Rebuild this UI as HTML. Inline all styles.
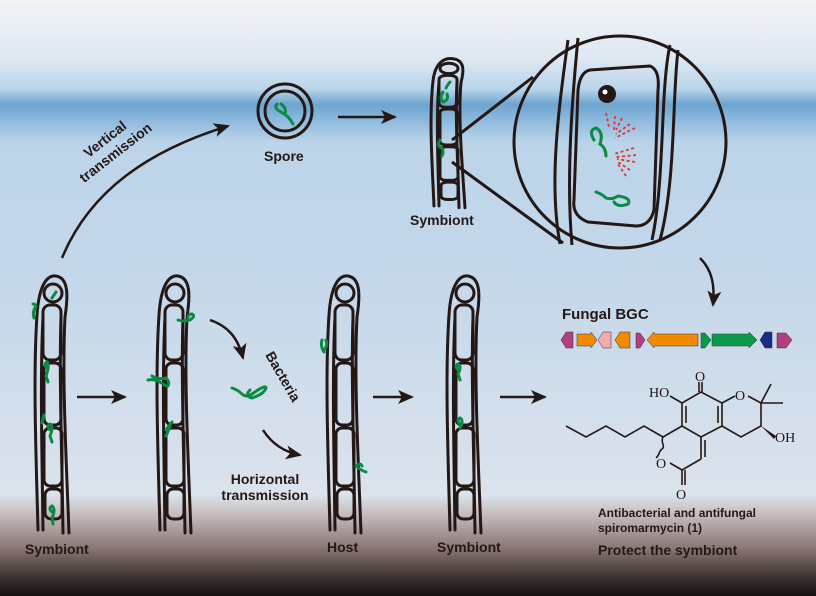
<!DOCTYPE html>
<html><head><meta charset="utf-8"><style>
html,body{margin:0;padding:0;width:816px;height:596px;overflow:hidden}
svg{display:block}
text{font-family:"Liberation Sans",Arial,sans-serif;font-weight:bold;fill:#231815}
.s{font-family:"Liberation Serif",serif;font-weight:normal;font-size:14px}
</style></head><body>
<svg width="816" height="596" viewBox="0 0 816 596" xmlns="http://www.w3.org/2000/svg">
<defs>
<linearGradient id="bg" x1="0" y1="0" x2="0" y2="1">
<stop offset="0" stop-color="#f2f4f6"/>
<stop offset="0.1" stop-color="#dde8f2"/>
<stop offset="0.15" stop-color="#b8d4ea"/>
<stop offset="0.175" stop-color="#6ea4cf"/>
<stop offset="0.2" stop-color="#8cb8dc"/>
<stop offset="0.24" stop-color="#bcd4e9"/>
<stop offset="0.5" stop-color="#c6d8ea"/>
<stop offset="0.83" stop-color="#dbe3ec"/>
<stop offset="0.86" stop-color="#c8c0c0"/>
<stop offset="0.92" stop-color="#8a7672"/>
<stop offset="0.97" stop-color="#3a302e"/>
<stop offset="1" stop-color="#161212"/>
</linearGradient>
<marker id="ah2" markerWidth="16" markerHeight="14" refX="14" refY="7" orient="auto" markerUnits="userSpaceOnUse" viewBox="0 0 16 14">
<path d="M0,0 L16,7 L0,14 L4,7z" fill="#231815"/></marker>
<g id="hy" fill="none" stroke="#231815" stroke-width="3" stroke-linecap="round">
<path vector-effect="non-scaling-stroke" d="M4,255 C2,180 -1,100 3,40 C5,8 14,0 22,1 C35,3 34,22 31,42 C28,100 32,180 35,258"/>
<path vector-effect="non-scaling-stroke" d="M9,255 C8,180 6,100 9,42 M27,42 C25,100 28,180 29,258"/>
<circle vector-effect="non-scaling-stroke" cx="19" cy="18" r="9"/>
<rect vector-effect="non-scaling-stroke" x="9" y="30" width="18" height="55" rx="7"/>
<rect vector-effect="non-scaling-stroke" x="10" y="88" width="17" height="62" rx="6"/>
<rect vector-effect="non-scaling-stroke" x="10" y="153" width="18" height="58" rx="6"/>
<rect vector-effect="non-scaling-stroke" x="11" y="214" width="17" height="30" rx="6"/>
</g>
</defs>
<rect width="816" height="596" fill="url(#bg)"/>

<use href="#hy" transform="translate(34,275)"/>
<use href="#hy" transform="translate(156,275)"/>
<use href="#hy" transform="translate(326,275)"/>
<use href="#hy" transform="translate(446,275)"/>
<use href="#hy" transform="translate(430,58) scale(1,0.58)"/>

<g fill="none" stroke="#0b8a45" stroke-width="3" stroke-linecap="round">
<path d="M56,292 l-4,6"/><path d="M36,306 q-4,6 -2,12 M33,304 q4,0 2,6"/>
<path d="M47,368 q-4,-4 0,-6 q3,3 -1,14 l2,6"/>
<path d="M44,415 l-2,8"/><path d="M50,430 q-4,-4 0,-6 q4,2 0,12 l2,6"/>
<path d="M52,512 q-4,-4 0,-6 q4,3 0,12 l1,6"/>
<path d="M178,320 q6,2 12,0 q6,-4 2,-6 q-5,0 -4,6"/>
<path d="M148,380 q8,-2 18,6 M152,376 q6,4 14,2 q4,4 2,8"/>
<path d="M166,430 q4,-6 6,-8 M170,426 q-2,6 -4,10"/>
<path d="M232,388 q6,2 10,6 q4,4 10,0 q14,-10 14,-6 q-2,6 -14,10 q-8,-2 -2,-8"/>
<path d="M322,340 q-2,6 2,12 M326,340 q2,6 -2,10"/>
<path d="M356,466 q4,4 10,6 M356,466 q4,-4 6,0"/>
<path d="M458,370 q-4,-4 0,-6 q4,3 0,10 l2,6"/>
<path d="M460,424 q-4,-4 0,-6 q4,2 0,10"/>
<path d="M443,92 q-4,6 0,10 q6,-2 4,-8 M446,88 q2,-4 4,-6"/>
<path d="M440,140 q-4,6 2,8 q2,4 0,8"/>
<path d="M277,104 q-4,4 4,8 q8,4 12,12 M281,104 q6,4 4,10"/>
<path d="M594,140 q-6,-10 2,-12 q8,4 4,16 q6,4 6,12"/>
<path d="M596,192 q6,2 10,6 q6,2 12,-2 q14,2 10,8 q-10,4 -14,-2"/>
</g>

<circle cx="285" cy="111" r="27" fill="none" stroke="#231815" stroke-width="3"/>
<circle cx="285" cy="111" r="20" fill="none" stroke="#231815" stroke-width="3"/>

<g fill="none" stroke="#231815" stroke-width="3">
<circle cx="620" cy="142" r="106"/>
<path d="M452,140 L533,77 M452,162 L563,243"/>
<path d="M568,40 C560,100 548,180 560,244 M578,38 C572,100 566,180 572,245"/>
<path d="M670,45 C660,90 665,180 652,240 M678,50 C672,100 676,180 660,240"/>
<path d="M590,70 L650,66 Q660,70 658,90 L654,210 Q650,226 636,226 L588,222 Q572,216 574,200 L578,90 Q580,72 590,70z"/>
</g>
<circle cx="607" cy="94" r="9" fill="#231815"/>
<circle cx="605" cy="92" r="2.5" fill="#fff"/>
<g fill="none" stroke="#e83030" stroke-width="1.8" stroke-dasharray="3 2.5">
<path d="M606,113 l3,14 M615,116 l-1,14 M622,118 l-6,12 M635,128 l-20,10 M630,124 l-14,10"/>
<path d="M634,148 l-20,6 M636,155 l-20,2 M635,162 l-18,-3 M630,170 l-12,-8 M626,176 l-8,-12"/>
</g>

<g fill="none" stroke="#231815" stroke-width="2.5">
<path d="M62,258 C90,190 150,150 228,126" marker-end="url(#ah2)"/>
<path d="M338,117 L395,117" marker-end="url(#ah2)"/>
<path d="M77,397 L125,397" marker-end="url(#ah2)"/>
<path d="M373,397 L412,397" marker-end="url(#ah2)"/>
<path d="M500,397 L545,397" marker-end="url(#ah2)"/>
<path d="M210,320 C228,326 238,338 243,358" marker-end="url(#ah2)"/>
<path d="M263,430 C272,444 284,452 300,455" marker-end="url(#ah2)"/>
<path d="M700,258 C712,270 715,285 713,305" marker-end="url(#ah2)"/>
</g>

<g stroke="#333" stroke-width="0.5">
<path d="M561,340 l5,-8 h7 v16 h-7z" fill="#b0407f"/>
<path d="M577,334 h14 v-2 l6,8 l-6,8 v-2 h-14z" fill="#f08a00"/>
<path d="M598,340 l5,-8 h8 v16 h-8z" fill="#f4aab0"/>
<path d="M615,340 l5,-8 h10 v16 h-10z" fill="#f08a00"/>
<path d="M636,333 h4 l5,7 l-5,8 h-4z" fill="#b0407f"/>
<path d="M647,340 l7,-8 v2 h44 v12 h-44 v2z" fill="#f08a00"/>
<path d="M701,333 h4 l6,7 l-6,8 h-4z" fill="#0a9a4a"/>
<path d="M712,334 h37 v-2 l8,8 l-8,8 v-2 h-37z" fill="#0a9a4a"/>
<path d="M760,340 l5,-8 h7 v16 h-7z" fill="#1c2a8a"/>
<path d="M777,333 h9 l6,7 l-6,8 h-9z" fill="#b0407f"/>
</g>

<g fill="none" stroke="#231815" stroke-width="1.6">
<path d="M566,426 L586,437 L606,426 L625,437 L644,426 L663,437"/>
<path d="M663,437 L682,426 L682,403 L701,392 L722,403 L722,426 L701,437 L682,426"/>
<path d="M686,406 L686,423 M718,406 L718,423"/>
<path d="M702,392 L702,382 M699,392 L699,382"/>
<path d="M682,403 L670,396"/>
<path d="M722,403 L735,396 M748,396 L761,403 L771,384 M761,403 L783,403 M761,403 L761,426 L741,437 L722,426"/>
<path d="M701,437 L701,459 M705,440 L705,457 M701,459 L682,470 L682,485 M685,470 L685,485 M682,470 L670,463 M656,458 C660,455 658,452 662,449 C666,446 660,443 663,437"/>
</g>
<path d="M761,426 L776,436 L774,439z" fill="#231815"/>
<text class="s" x="695" y="381">O</text>
<text class="s" x="649" y="397">HO</text>
<text class="s" x="735" y="400">O</text>
<text class="s" x="775" y="442">OH</text>
<text class="s" x="656" y="468">O</text>
<text class="s" x="676" y="499">O</text>

<text x="25" y="554" font-size="14">Symbiont</text>
<text x="327" y="552" font-size="14">Host</text>
<text x="437" y="552" font-size="14">Symbiont</text>
<text x="264" y="161" font-size="14">Spore</text>
<text x="410" y="225" font-size="14">Symbiont</text>
<text x="562" y="319" font-size="15">Fungal BGC</text>
<text x="265" y="484" font-size="14" text-anchor="middle">Horizontal</text>
<text x="265" y="500" font-size="14" text-anchor="middle">transmission</text>
<text x="0" y="0" font-size="14" transform="translate(265,355) rotate(60)">Bacteria</text>
<text font-size="14" text-anchor="middle" transform="translate(108,143) rotate(-38)"><tspan x="0" y="0">Vertical</tspan><tspan x="0" y="17">transmission</tspan></text>
<text x="598" y="517" font-size="12">Antibacterial and antifungal</text>
<text x="598" y="532" font-size="12">spiromarmycin (1)</text>
<text x="598" y="555" font-size="14">Protect the symbiont</text>
</svg>
</body></html>
